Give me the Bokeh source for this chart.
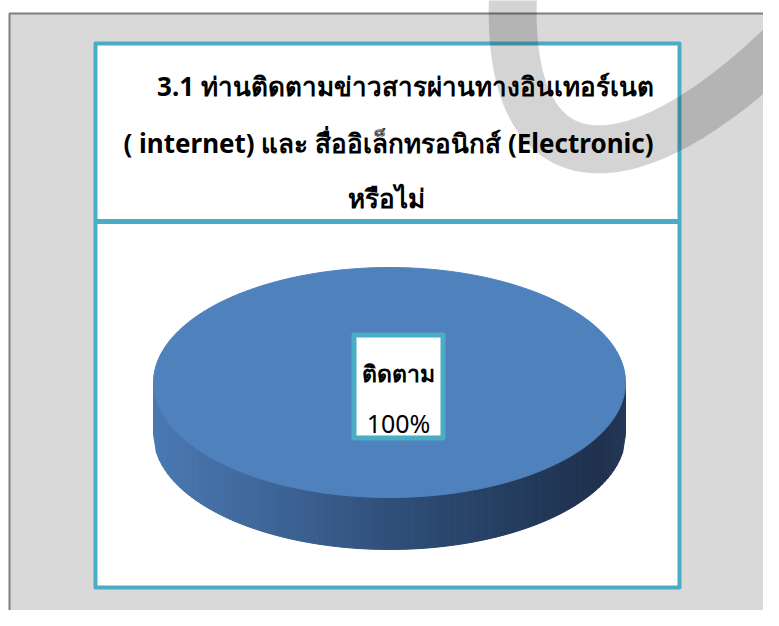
import numpy as np
from bokeh.plotting import figure
from bokeh.models import Range1d
from bokeh.core.properties import value
from bokeh.embed import file_html
from bokeh.resources import INLINE

# ---- data ----
categories = ["ติดตาม"]
values = [100]
title_lines = [
    "3.1 ท่านติดตามข่าวสารผ่านทางอินเทอร์เนต",
    "( internet) และ สื่ออิเล็กทรอนิกส์ (Electronic)",
    "หรือไม่",
]
slice_colors = ["#4f81bd"]

W, H = 763, 610
FONT = value("Noto Sans")
TEAL = "#4bacc6"


def X(x):
    return x


def Y(y):
    return H - y


p = figure(width=W, height=H, output_backend="svg", toolbar_location=None,
           x_range=Range1d(0, W), y_range=Range1d(0, H), min_border=0)
p.axis.visible = False
p.grid.visible = False
p.outline_line_color = None
p.background_fill_color = "white"
p.border_fill_color = "white"

# gray slide background
p.quad(left=X(9), right=X(820), top=Y(13), bottom=Y(680),
       fill_color="#d9d9d9", line_color="#7f7f7f", line_width=2)

# chart frame
p.quad(left=X(95), right=X(679), top=Y(43), bottom=Y(587),
       fill_color="white", line_color=TEAL, line_width=4, line_join="round")
p.segment(x0=[X(95)], y0=[Y(221)], x1=[X(679)], y1=[Y(221)],
          line_color=TEAL, line_width=5)

# ---- 3D pie ----
cx, cy = X(389), Y(382)
rx, ry, depth = 236, 115, 52
total = sum(values)


def lerp_color(f):
    stops = [(0.0, (0x4a, 0x79, 0xb2)), (0.25, (0x3e, 0x65, 0x98)),
             (0.5, (0x30, 0x50, 0x7a)), (0.8, (0x23, 0x3a, 0x5b)),
             (0.95, (0x1f, 0x31, 0x4d)), (1.0, (0x24, 0x38, 0x58))]
    for (f0, c0), (f1, c1) in zip(stops[:-1], stops[1:]):
        if f <= f1:
            t = (f - f0) / (f1 - f0)
            return "#%02x%02x%02x" % tuple(int(round(a + (b - a) * t)) for a, b in zip(c0, c1))
    return "#%02x%02x%02x" % stops[-1][1]


n = 160
xs_edge = np.linspace(cx - rx, cx + rx, n + 1)
front = cy - ry * np.sqrt(np.clip(1 - ((xs_edge - cx) / rx) ** 2, 0, 1))
sx, sy, sc = [], [], []
for i in range(n):
    x0, x1 = xs_edge[i], xs_edge[i + 1]
    sx.append([x0, x1, x1, x0])
    sy.append([cy, cy, front[i + 1] - depth, front[i] - depth])
    sc.append(lerp_color((i + 0.5) / n))
p.patches(xs=sx, ys=sy, fill_color=sc, line_color=sc, line_width=1)

# top face slices from data
start = np.pi / 2
for v, col in zip(values, slice_colors):
    ang = 2 * np.pi * v / total
    t = np.linspace(start, start - ang, 240)
    px = cx + rx * np.cos(t)
    py = cy + ry * np.sin(t)
    if v < total:
        px = np.concatenate([[cx], px])
        py = np.concatenate([[cy], py])
    p.patch(px, py, fill_color=col, line_color=col, line_width=1)
    start -= ang

# data label
lab_l, lab_r, lab_t, lab_b = X(353.5), X(442.5), Y(334.5), Y(437.5)
p.quad(left=lab_l, right=lab_r, top=lab_t, bottom=lab_b,
       fill_color="white", line_color=TEAL, line_width=5, line_join="round")
lx = (lab_l + lab_r) / 2
p.text(x=[lx], y=[Y(372)], text=[categories[0]], text_font=FONT,
       text_font_size="23px", text_font_style="bold", text_color="black",
       text_align="center", text_baseline="alphabetic")
p.text(x=[lx], y=[Y(422)], text=["%d%%" % round(values[0] / total * 100)],
       text_font=FONT, text_font_size="25px", text_color="black",
       text_align="center", text_baseline="alphabetic")

# title
p.text(x=[X(405)], y=[Y(85)], text=[title_lines[0]], text_font=FONT,
       text_font_size="26px", text_font_style="bold", text_color="black",
       text_align="center", text_baseline="alphabetic")
p.text(x=[X(388)], y=[Y(142)], text=[title_lines[1]], text_font=FONT,
       text_font_size="26px", text_font_style="bold", text_color="black",
       text_align="center", text_baseline="alphabetic")
p.text(x=[X(386)], y=[Y(197)], text=[title_lines[2]], text_font=FONT,
       text_font_size="26px", text_font_style="bold", text_color="black",
       text_align="center", text_baseline="alphabetic")

# decorative translucent check stroke
tt = np.linspace(0, 1, 200)
P = np.array([[513, -15], [500, 200], [640, 200], [820, 5]], dtype=float)
bx = ((1 - tt) ** 3)[:, None] * P[0] + (3 * (1 - tt) ** 2 * tt)[:, None] * P[1] \
    + (3 * (1 - tt) * tt ** 2)[:, None] * P[2] + (tt ** 3)[:, None] * P[3]
p.line(x=X(bx[:, 0]), y=Y(bx[:, 1]), line_color="black", line_alpha=0.17,
       line_width=48, line_cap="butt", line_join="round")

open("out.html", "w").write(file_html(p, INLINE))
